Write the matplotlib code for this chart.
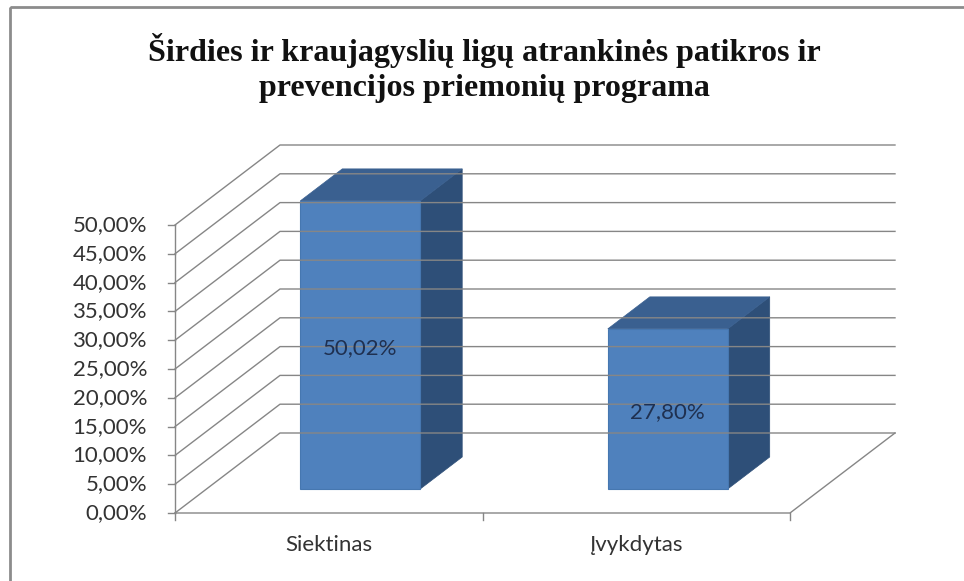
import matplotlib.pyplot as plt
from matplotlib.patches import Polygon, Rectangle

# data
categories = ['Siektinas', 'Įvykdytas']
values = [50.02, 27.80]
yticks = [0, 5, 10, 15, 20, 25, 30, 35, 40, 45, 50]
ytick_labels = ['0,00%', '5,00%', '10,00%', '15,00%', '20,00%', '25,00%',
                '30,00%', '35,00%', '40,00%', '45,00%', '50,00%']
bar_labels = ['50,02%', '27,80%']
title = 'Širdies ir kraujagyslių ligų atrankinės patikros ir\nprevencijos priemonių programa'

# oblique projection of the 3d box (pixel space)
X0, Y0 = 175, 513          # front origin
CAT_W = 307.5              # width of one category slot
PX_PER = 5.76              # pixels per percent
DX, DY = 105, -80          # depth vector (full depth)


def proj(c, v, d=0.0):
    # c: category position (0..n), v: value, d: depth 0..1
    return (X0 + c * CAT_W + d * DX, Y0 - v * PX_PER + d * DY)


grid_col = '#868686'
front_col = '#4F81BD'
top_col = '#3A6090'
side_col = '#2E4F78'
txt_font = 'Lato'

fig = plt.figure(figsize=(9.64, 5.81), dpi=100)
ax = fig.add_axes([0, 0, 1, 1])
ax.set_xlim(0, 964)
ax.set_ylim(581, 0)
ax.axis('off')

# chart border
ax.add_patch(Rectangle((10, 7), 960, 580, fill=False, edgecolor='#8c8c8c', lw=2))

n = len(categories)
top = max(yticks)

# back wall gridlines and left wall diagonals
for t in yticks:
    p0 = proj(0, t, 0)
    p1 = proj(0, t, 1)
    p2 = proj(n, t, 1)
    ax.plot([p0[0], p1[0], p2[0]], [p0[1], p1[1], p2[1]], color=grid_col, lw=1)

# floor
f0 = proj(0, 0, 0)
f1 = proj(n, 0, 0)
f2 = proj(n, 0, 1)
ax.plot([f0[0], f1[0], f2[0]], [f0[1], f1[1], f2[1]], color=grid_col, lw=1)

# vertical axis with ticks
a0 = proj(0, 0, 0)
a1 = proj(0, top, 0)
ax.plot([a0[0], a1[0]], [a0[1], a1[1]], color=grid_col, lw=1)
for t, lab in zip(yticks, ytick_labels):
    px, py = proj(0, t, 0)
    ax.plot([px - 7, px], [py, py], color=grid_col, lw=1)
    ax.text(px - 28, py, lab, ha='right', va='center', fontsize=16,
            family=txt_font, color='#333333')

# category ticks
for i in range(n + 1):
    px, py = proj(i, 0, 0)
    ax.plot([px, px], [py, py + 7], color=grid_col, lw=1)

# bars
bw = 0.39
d0, d1 = 0.3, 0.7
for i, (v, lab) in enumerate(zip(values, bar_labels)):
    cl = i + 0.5 - bw / 2
    cr = i + 0.5 + bw / 2
    front = [proj(cl, 0, d0), proj(cr, 0, d0), proj(cr, v, d0), proj(cl, v, d0)]
    side = [proj(cr, 0, d0), proj(cr, 0, d1), proj(cr, v, d1), proj(cr, v, d0)]
    topf = [proj(cl, v, d0), proj(cr, v, d0), proj(cr, v, d1), proj(cl, v, d1)]
    ax.add_patch(Polygon(side, closed=True, facecolor=side_col, edgecolor=side_col, lw=0.5))
    ax.add_patch(Polygon(topf, closed=True, facecolor=top_col, edgecolor=top_col, lw=0.5))
    ax.add_patch(Polygon(front, closed=True, facecolor=front_col, edgecolor='#4677B0', lw=0.8))
    cx, cy = proj(i + 0.5, v / 2, d0)
    ax.text(cx, cy + 3, lab, ha='center', va='center', fontsize=16,
            family=txt_font, color='#1F3050')

# category labels
for i, c in enumerate(categories):
    px, py = proj(i + 0.5, 0, 0)
    ax.text(px, py + 32, c, ha='center', va='center', fontsize=16,
            family=txt_font, color='#333333')

ax.text(484, 68, title, ha='center', va='center', fontsize=23,
        family='Liberation Serif', weight='bold', linespacing=1.25, color='#111111')

fig.savefig('out.png', dpi=100)
